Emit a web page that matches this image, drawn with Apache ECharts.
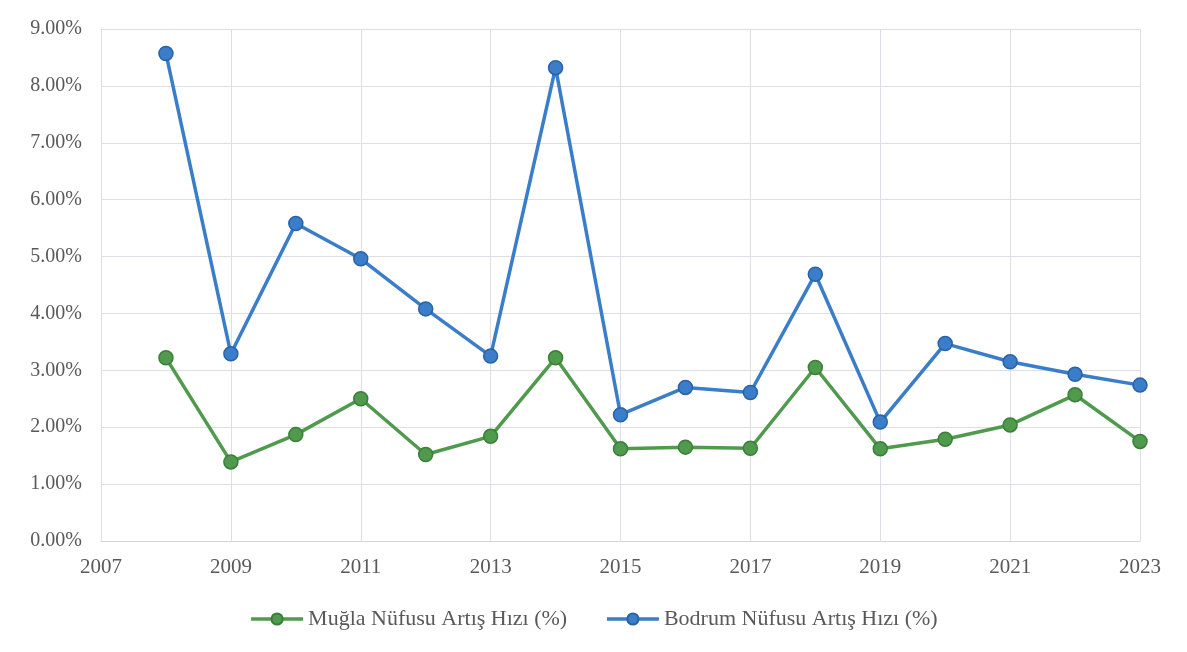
<!DOCTYPE html>
<html>
<head>
<meta charset="utf-8">
<script src="https://cdn.jsdelivr.net/npm/echarts@6/dist/echarts.min.js"></script>
<style>
  html, body { margin: 0; padding: 0; background: #fff; }
  #chart { width: 1187px; height: 652px; }
</style>
</head>
<body>
<div id="chart"></div>
<script>
const years = [2008, 2009, 2010, 2011, 2012, 2013, 2014, 2015, 2016, 2017, 2018, 2019, 2020, 2021, 2022, 2023];
const mugla = [3.22, 1.39, 1.87, 2.50, 1.52, 1.84, 3.22, 1.62, 1.65, 1.63, 3.05, 1.62, 1.79, 2.04, 2.57, 1.75];
const bodrum = [8.57, 3.29, 5.58, 4.96, 4.08, 3.25, 8.32, 2.22, 2.70, 2.61, 4.69, 2.09, 3.47, 3.15, 2.93, 2.74];
const muglaName = 'Muğla Nüfusu Artış Hızı (%)';
const bodrumName = 'Bodrum Nüfusu Artış Hızı (%)';

const font = '"Liberation Serif", "DejaVu Serif", serif';
const chart = echarts.init(document.getElementById('chart'));

function pairs(vals) {
    return years.map((y, i) => [y, vals[i]]);
}

chart.setOption({
    animation: false,
    backgroundColor: '#fff',
    grid: { left: 101, right: 47, top: 29, bottom: 111 },
    legend: {
        bottom: 17,
        itemGap: 38,
        itemWidth: 52,
        itemHeight: 14,
        lineStyle: { width: 3.5 },
        textStyle: { fontFamily: font, fontSize: 22, color: '#595959' },
        data: [muglaName, bodrumName]
    },
    xAxis: {
        type: 'value',
        min: 2007,
        max: 2023,
        interval: 2,
        axisLine: { show: true, lineStyle: { color: '#d4d4dc' } },
        axisTick: { show: false },
        splitLine: { show: true, lineStyle: { color: '#dedee6' } },
        axisLabel: {
            fontFamily: font, fontSize: 21, color: '#595959', margin: 16,
            formatter: v => String(v)
        }
    },
    yAxis: {
        type: 'value',
        min: 0,
        max: 9,
        interval: 1,
        axisLine: { show: false },
        axisTick: { show: false },
        splitLine: { lineStyle: { color: '#dedee6' } },
        axisLabel: {
            fontFamily: font, fontSize: 20, color: '#595959', margin: 19,
            formatter: v => v.toFixed(2) + '%'
        }
    },
    series: [
        {
            name: muglaName,
            type: 'line',
            data: pairs(mugla),
            symbol: 'circle',
            symbolSize: 14,
            lineStyle: { color: '#4f9a4c', width: 3.5 },
            itemStyle: { color: '#4f9a4c', borderColor: '#3b7e39', borderWidth: 1.5 }
        },
        {
            name: bodrumName,
            type: 'line',
            data: pairs(bodrum),
            symbol: 'circle',
            symbolSize: 14,
            lineStyle: { color: '#3a7dc8', width: 3.5 },
            itemStyle: { color: '#3a7dc8', borderColor: '#2a62a8', borderWidth: 1.5 }
        }
    ]
});
</script>
</body>
</html>
